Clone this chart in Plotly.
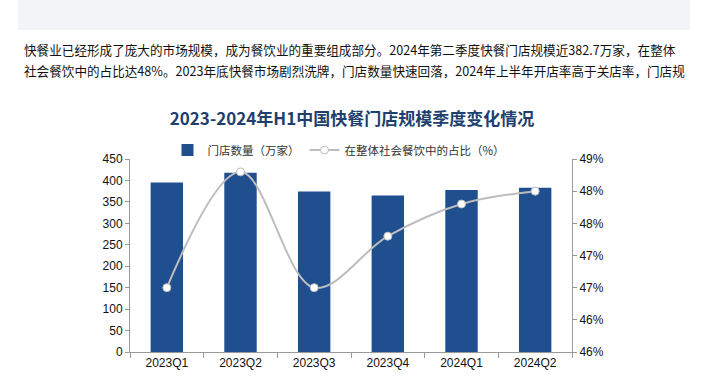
import plotly.graph_objects as go

categories = ["2023Q1", "2023Q2", "2023Q3", "2023Q4", "2024Q1", "2024Q2"]
stores = [395, 418, 374, 365, 378, 382.7]          # 门店数量（万家）
share = [46.5, 48.3, 46.5, 47.3, 47.8, 48.0]        # 在整体社会餐饮中的占比（%）
left_ticks = [0, 50, 100, 150, 200, 250, 300, 350, 400, 450]
right_ticks = [45.5, 46.0, 46.5, 47.0, 47.5, 48.0, 48.5]
right_labels = ["46%", "46%", "47%", "47%", "48%", "48%", "49%"]

title = "2023-2024年H1中国快餐门店规模季度变化情况"
para1 = "快餐业已经形成了庞大的市场规模，成为餐饮业的重要组成部分。2024年第二季度快餐门店规模近382.7万家，在整体"
para2 = "社会餐饮中的占比达48%。2023年底快餐市场剧烈洗牌，门店数量快速回落，2024年上半年开店率高于关店率，门店规"

W, H = 705, 392
ml, mr, mt, mb = 130, 133, 159, 40
pw, ph = W - ml - mr, H - mt - mb

def px(x):
    return (x - ml) / pw

def py(y):
    return (H - mb - y) / ph

cjk = "Noto Sans CJK SC"

fig = go.Figure()
fig.add_trace(go.Bar(
    x=categories, y=stores, name="门店数量（万家）",
    marker=dict(color="#1F4F8F", line=dict(width=0)),
    yaxis="y",
))
fig.add_trace(go.Scatter(
    x=categories, y=share, name="在整体社会餐饮中的占比（%）",
    mode="lines+markers",
    line=dict(color="#BDBDBD", width=2, shape="spline", smoothing=1.0),
    marker=dict(color="white", size=8, line=dict(color="#BDBDBD", width=1)),
    yaxis="y2",
))

fig.update_layout(
    width=W, height=H,
    margin=dict(l=ml, r=mr, t=mt, b=mb, pad=0),
    paper_bgcolor="white", plot_bgcolor="white",
    bargap=0.56,
    showlegend=True,
    legend=dict(
        orientation="h", x=px(339), xanchor="center", y=py(150), yanchor="middle",
        font=dict(family=cjk, size=11.5, color="#333333"),
        bgcolor="rgba(0,0,0,0)", itemwidth=30, tracegroupgap=0,
    ),
    title=dict(
        text="<b>" + title + "</b>", x=352 / W, xanchor="center",
        y=1 - 119 / H, yanchor="middle",
        font=dict(family=cjk, size=17, color="#1F3F6E"),
    ),
    xaxis=dict(
        type="category", showline=True, linecolor="#999999", linewidth=1,
        ticks="outside", ticklen=5, tickcolor="#999999", tickson="boundaries",
        tickfont=dict(family="Liberation Sans", size=12, color="#111111"),
        showgrid=False, zeroline=False,
    ),
    yaxis=dict(
        range=[0, 450], tickvals=left_ticks, showline=True, linecolor="#999999",
        linewidth=1, ticks="outside", ticklen=4, tickcolor="#999999",
        tickfont=dict(family="Liberation Sans", size=12, color="#111111"),
        showgrid=False, zeroline=False,
    ),
    yaxis2=dict(
        range=[45.5, 48.5], tickvals=right_ticks, ticktext=right_labels,
        overlaying="y", side="right", showline=True, linecolor="#999999",
        linewidth=1, ticks="outside", ticklen=4, tickcolor="#999999",
        tickfont=dict(family="Liberation Sans", size=12, color="#111111"),
        showgrid=False, zeroline=False,
    ),
    shapes=[dict(
        type="rect", xref="paper", yref="paper",
        x0=px(18), x1=px(690), y0=py(30), y1=py(0),
        fillcolor="#F2F4F8", line=dict(width=0), layer="below",
    )],
    annotations=[
        dict(text=para1, xref="paper", yref="paper", x=px(22), y=py(49),
             xanchor="left", yanchor="middle", showarrow=False,
             font=dict(family=cjk, size=12.6, color="#111111")),
        dict(text=para2, xref="paper", yref="paper", x=px(22), y=py(71),
             xanchor="left", yanchor="middle", showarrow=False,
             font=dict(family=cjk, size=12.6, color="#111111")),
    ],
)

fig.write_html("out.html", config={"displayModeBar": False},
               post_script="document.body.style.margin='0';")
